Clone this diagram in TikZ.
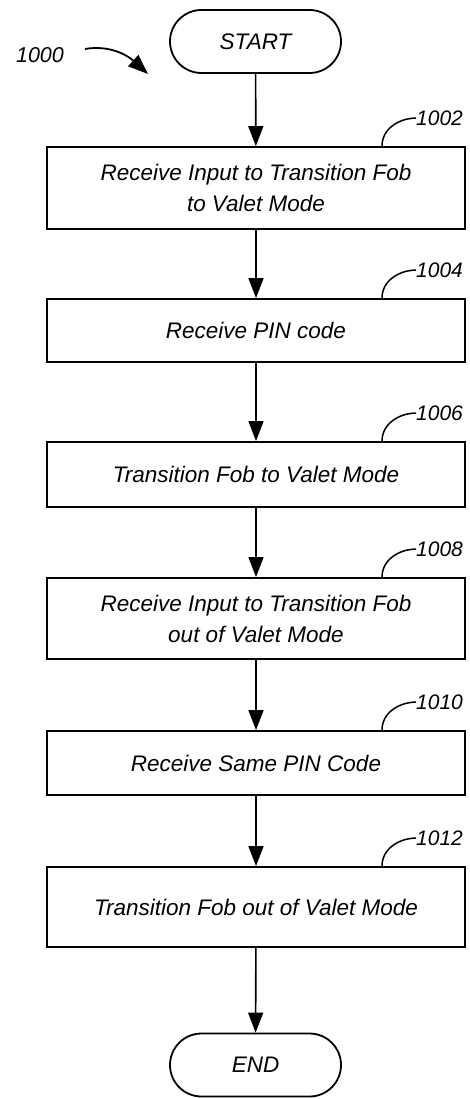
\documentclass[tikz,border=0pt]{standalone}
\usepackage{fontspec}
\setmainfont{Liberation Sans}
\usetikzlibrary{arrows.meta}
\begin{document}
\begin{tikzpicture}[x=1pt,y=-1pt,
  stepbox/.style={draw,line width=1.8pt,minimum width=418pt,inner sep=0pt,align=center,font=\fontsize{22.5}{31}\selectfont\itshape},
  term/.style={draw,line width=1.8pt,minimum width=171pt,minimum height=63pt,rounded corners=31.5pt,inner sep=0pt,font=\fontsize{22.5}{26}\selectfont\itshape},
  flow/.style={line width=1.6pt,-{Triangle[width=15pt,length=20pt]}},
  lead/.style={line width=1.5pt},
  reflabel/.style={anchor=west,inner sep=0pt,font=\fontsize{21}{24}\selectfont\itshape}]
\useasboundingbox (0,0) rectangle (469,1099);
\node[term] (start) at (255.5,41.5) {START};
\node[stepbox,minimum height=82pt] (b1) at (256,188) {Receive Input to Transition Fob\\to Valet Mode};
\node[stepbox,minimum height=63pt] (b2) at (256,330.5) {Receive PIN code};
\node[stepbox,minimum height=65pt] (b3) at (256,474.5) {Transition Fob to Valet Mode};
\node[stepbox,minimum height=81pt] (b4) at (256,618.5) {Receive Input to Transition Fob\\out of Valet Mode};
\node[stepbox,minimum height=64pt] (b5) at (256,763) {Receive Same PIN Code};
\node[stepbox,minimum height=80pt] (b6) at (256,907) {Transition Fob out of Valet Mode};
\node[term] (end) at (255.5,1065) {END};
\draw[flow] (start) -- (b1);
\draw[flow] (b1) -- (b2);
\draw[flow] (b2) -- (b3);
\draw[flow] (b3) -- (b4);
\draw[flow] (b4) -- (b5);
\draw[flow] (b5) -- (b6);
\draw[flow] (b6) -- (end);
% reference labels
\foreach \b/\t in {b1/1002,b2/1004,b3/1006,b4/1008,b5/1010,b6/1012}{
  \coordinate (\b-l) at ([xshift=126pt]\b.north);
  \node[reflabel] (\b-r) at ([xshift=34pt,yshift=28pt]\b-l) {\t};
  \draw[lead] (\b-l) .. controls ([yshift=18pt]\b-l) and ([xshift=-16pt]\b-r.west) .. (\b-r.west);
}
\node[anchor=center,inner sep=0pt,font=\fontsize{21.5}{24}\selectfont\itshape] (fig) at (40,55) {1000};
\coordinate (figtail) at (85,49);
\coordinate (figtip) at (148,74);
\draw[line width=1.8pt,-{Triangle[width=15pt,length=20pt]}] (figtail) .. controls (108,45) and (126,54) .. (figtip);
\end{tikzpicture}
\end{document}
